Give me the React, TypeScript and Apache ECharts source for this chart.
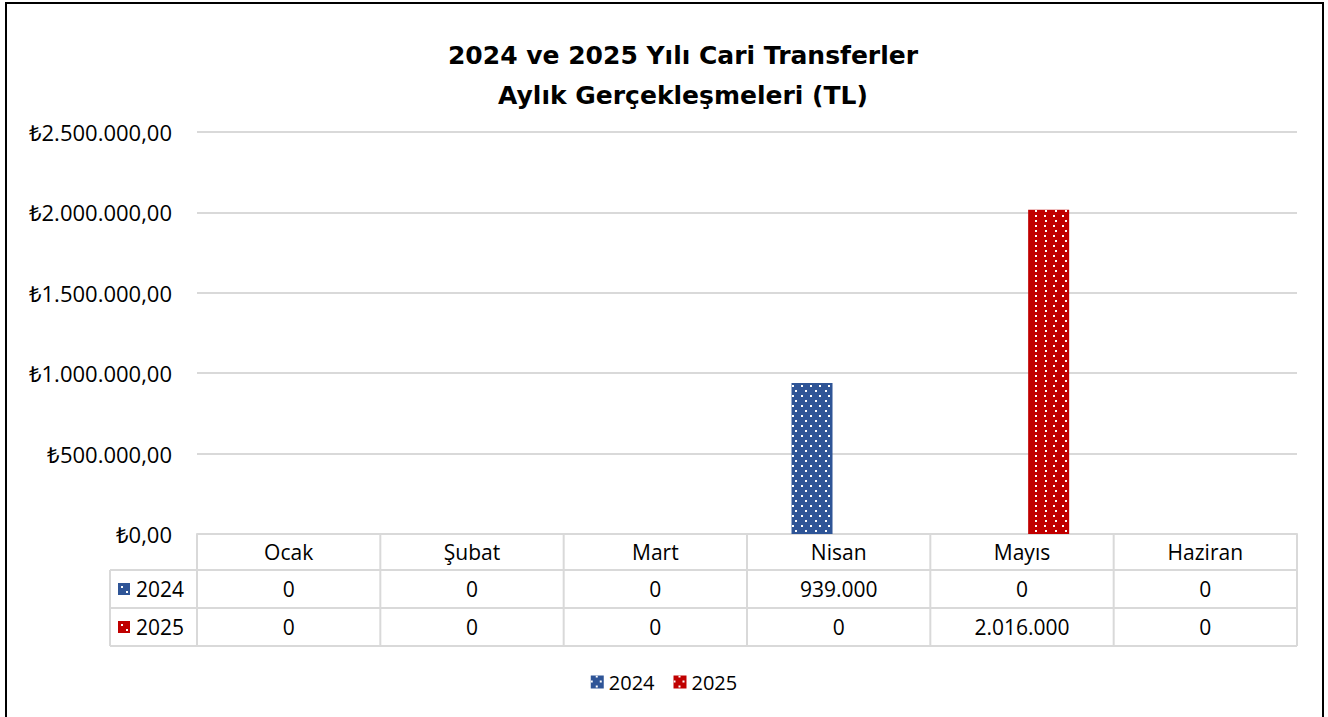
import React, { useEffect, useRef } from "react";
import * as echarts from "echarts";

const categories = ["Ocak", "Şubat", "Mart", "Nisan", "Mayıs", "Haziran"];
const seriesNames = ["2024", "2025"];
const values2024 = [0, 0, 0, 939000, 0, 0];
const values2025 = [0, 0, 0, 0, 2016000, 0];
const yTicks = { min: 0, max: 2500000, interval: 500000 };
const titleLines = ["2024 ve 2025 Yılı Cari Transferler", "Aylık Gerçekleşmeleri (TL)"];

const colors = ["#2F5597", "#C00000"];
const FONT = "'Open Sans'";
const TITLE_FONT = "'DejaVu Sans'";
const GRID_LEFT = 197;
const GRID_RIGHT_X = 1297;
const GRID_TOP = 132;
const GRID_BOTTOM_Y = 534;
const W = 1328;
const H = 717;
const LINE = "#d9d9d9";

function groupThousands(n: number): string {
  const s = Math.round(Math.abs(n)).toString();
  let out = "";
  for (let i = 0; i < s.length; i++) {
    if (i > 0 && (s.length - i) % 3 === 0) out += ".";
    out += s[i];
  }
  return (n < 0 ? "-" : "") + out;
}

function tl(n: number): string {
  return "₺" + groupThousands(n) + ",00";
}

const decal = {
  symbol: "rect",
  symbolSize: 1,
  color: "#ffffff",
  dashArrayX: [
    [2, 6.3],
    [0, 4.1, 2, 2.2],
  ],
  dashArrayY: [2, 2.2],
  rotation: 0,
};

export default function App() {
  const ref = useRef<HTMLDivElement>(null);
  useEffect(() => {
    document.body.style.margin = "0";
    const chart = echarts.init(ref.current!, null, { renderer: "svg" });
    const colW = (GRID_RIGHT_X - GRID_LEFT) / categories.length;
    const rowTops = [GRID_BOTTOM_Y, 570, 608, 646];
    const rows = [values2024, values2025];

    const graphics: any[] = [];
    graphics.push({
      type: "rect",
      shape: { x: 6, y: 3, width: 1317, height: 725 },
      style: { fill: "none", stroke: "#000", lineWidth: 2 },
      silent: true,
    });
    for (let i = 0; i <= categories.length; i++) {
      const x = GRID_LEFT + i * colW;
      graphics.push({
        type: "line",
        shape: { x1: x, y1: rowTops[0], x2: x, y2: rowTops[3] },
        style: { stroke: LINE, lineWidth: 2 },
        silent: true,
      });
    }
    graphics.push({
      type: "line",
      shape: { x1: 110, y1: rowTops[1], x2: 110, y2: rowTops[3] },
      style: { stroke: LINE, lineWidth: 2 },
      silent: true,
    });
    for (let r = 1; r <= 3; r++) {
      graphics.push({
        type: "line",
        shape: { x1: 110, y1: rowTops[r], x2: GRID_RIGHT_X, y2: rowTops[r] },
        style: { stroke: LINE, lineWidth: 2 },
        silent: true,
      });
    }
    rows.forEach((vals, r) => {
      const cy = (rowTops[r + 1] + rowTops[r + 2]) / 2;
      graphics.push({
        type: "rect",
        shape: { x: 118, y: cy - 6, width: 12, height: 12 },
        style: { fill: colors[r] },
        silent: true,
      });
      [
        [121, cy - 3],
        [126, cy + 2],
      ].forEach(([dx, dy]) =>
        graphics.push({
          type: "rect",
          shape: { x: dx, y: dy, width: 2, height: 2 },
          style: { fill: "#fff" },
          silent: true,
        })
      );
      graphics.push({
        type: "text",
        x: 136,
        y: cy,
        style: {
          text: seriesNames[r],
          font: `21px ${FONT}`,
          fill: "#000",
          textAlign: "left",
          textVerticalAlign: "middle",
        },
        silent: true,
      });
      vals.forEach((v, i) => {
        graphics.push({
          type: "text",
          x: GRID_LEFT + (i + 0.5) * colW,
          y: cy,
          style: {
            text: groupThousands(v),
            font: `21px ${FONT}`,
            fill: "#000",
            textAlign: "center",
            textVerticalAlign: "middle",
          },
          silent: true,
        });
      });
    });

    chart.setOption({
      animation: false,
      backgroundColor: "#fff",
      title: {
        text: titleLines.join("\n"),
        left: 678,
        textAlign: "center",
        top: 30,
        textStyle: {
          fontFamily: TITLE_FONT,
          fontWeight: "bold",
          fontSize: 25,
          lineHeight: 40,
          color: "#000",
        },
      },
      legend: {
        bottom: 20,
        left: "center",
        itemWidth: 13,
        itemHeight: 13,
        itemGap: 19,
        icon: "rect",
        textStyle: { fontFamily: FONT, fontSize: 20, color: "#000" },
        data: seriesNames,
      },
      grid: {
        left: GRID_LEFT,
        right: W - GRID_RIGHT_X,
        top: GRID_TOP,
        bottom: H - GRID_BOTTOM_Y,
        containLabel: false,
      },
      xAxis: {
        type: "category",
        data: categories,
        axisLine: { show: true, lineStyle: { color: LINE, width: 2 } },
        axisTick: { show: false },
        axisLabel: {
          fontFamily: FONT,
          fontSize: 21,
          color: "#000",
          margin: 7,
          interval: 0,
        },
      },
      yAxis: {
        type: "value",
        min: yTicks.min,
        max: yTicks.max,
        interval: yTicks.interval,
        axisLine: { show: false },
        axisTick: { show: false },
        splitLine: { lineStyle: { color: LINE, width: 2 } },
        axisLabel: {
          fontFamily: FONT,
          fontSize: 22,
          color: "#000",
          margin: 25,
          formatter: (v: number) => tl(v),
        },
      },
      series: [
        {
          name: seriesNames[0],
          type: "bar",
          data: values2024,
          barWidth: 41,
          barGap: "30%",
          itemStyle: { color: colors[0], decal },
        },
        {
          name: seriesNames[1],
          type: "bar",
          data: values2025,
          barWidth: 41,
          barGap: "30%",
          itemStyle: { color: colors[1], decal },
        },
      ],
      graphic: graphics,
    });
    return () => chart.dispose();
  }, []);
  return (
    <div
      ref={ref}
      style={{ position: "absolute", left: 0, top: 0, width: W, height: H }}
    />
  );
}
